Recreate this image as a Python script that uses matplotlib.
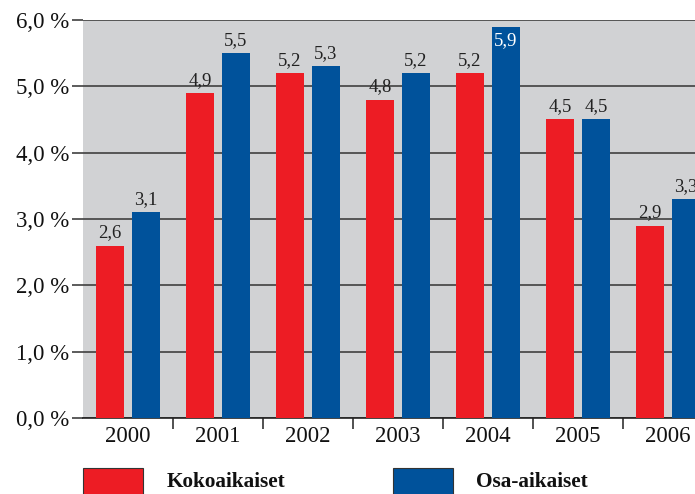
import matplotlib
matplotlib.use("Agg")
import matplotlib.pyplot as plt
from matplotlib.patches import Rectangle
import numpy as np

years = ["2000", "2001", "2002", "2003", "2004", "2005", "2006"]
kokoaikaiset = [2.6, 4.9, 5.2, 4.8, 5.2, 4.5, 2.9]
osa_aikaiset = [3.1, 5.5, 5.3, 5.2, 5.9, 4.5, 3.3]
series_names = ["Kokoaikaiset", "Osa-aikaiset"]
colors = ["#ED1C24", "#00529B"]
yticks = [0, 1, 2, 3, 4, 5, 6]

plt.rcParams['font.family'] = ['Liberation Serif', 'DejaVu Serif']

W, H = 695, 494
fig = plt.figure(figsize=(W / 100, H / 100), dpi=100)
left, right, top, bottom = 83, 83 + 7 * 90, 20, 418
ax = fig.add_axes([left / W, (H - bottom) / H, (right - left) / W, (bottom - top) / H])
ax.set_facecolor("#D1D2D4")

x = np.arange(len(years))
bw = 0.322
off = 0.2
b1 = ax.bar(x - off, kokoaikaiset, bw, color=colors[0], zorder=3)
b2 = ax.bar(x + off, osa_aikaiset, bw, color=colors[1], zorder=3)

ax.set_xlim(-0.5, len(years) - 0.5)
ax.set_ylim(0, 6)

def fmt(v):
    return f"{v:.1f}".replace(".", ",")

for bars, vals in ((b1, kokoaikaiset), (b2, osa_aikaiset)):
    for rect, v in zip(bars, vals):
        cx = rect.get_x() + rect.get_width() / 2
        if v > 5.7:
            ax.annotate(fmt(v), (cx, v), xytext=(0, -4), textcoords="offset points",
                        ha="center", va="top", fontsize=13.5, color="white", zorder=5)
        else:
            ax.annotate(fmt(v), (cx, v), xytext=(0, 3), textcoords="offset points",
                        ha="center", va="bottom", fontsize=13.5, color="#222222", zorder=5)

# y axis
ax.set_yticks(yticks)
ax.set_yticklabels([fmt(t) + " %" for t in yticks], fontsize=16.5, color="#111111")
ax.tick_params(axis="y", length=8, width=1.2, color="#404040", pad=2)
ax.yaxis.grid(True, color="#404040", linewidth=1.2, zorder=1)
ax.set_axisbelow(True)

# x axis
ax.set_xticks(x)
ax.set_xticklabels(years, fontsize=16.5, color="#111111")
ax.tick_params(axis="x", length=0, pad=6)
ax.set_xticks(np.arange(len(years)) + 0.5, minor=True)
ax.tick_params(axis="x", which="minor", length=8, width=1.2, color="#333333", direction="out")

for s in ("left", "right", "top"):
    ax.spines[s].set_visible(False)
ax.spines["bottom"].set_color("#222222")
ax.spines["bottom"].set_linewidth(1.2)

# legend (manual placement)
leg_items = [(83, 167), (393, 476)]
for (rx, tx), name, c in zip(leg_items, series_names, colors):
    fig.add_artist(Rectangle((rx / W, (H - 497) / H), 60 / W, 29 / H,
                             transform=fig.transFigure, facecolor=c,
                             edgecolor="#333333", linewidth=0.8))
    fig.text(tx / W, (H - 482) / H, name, fontsize=15.3, fontweight="bold",
             va="center", ha="left", color="#111111")

fig.savefig("out.png", dpi=100)
